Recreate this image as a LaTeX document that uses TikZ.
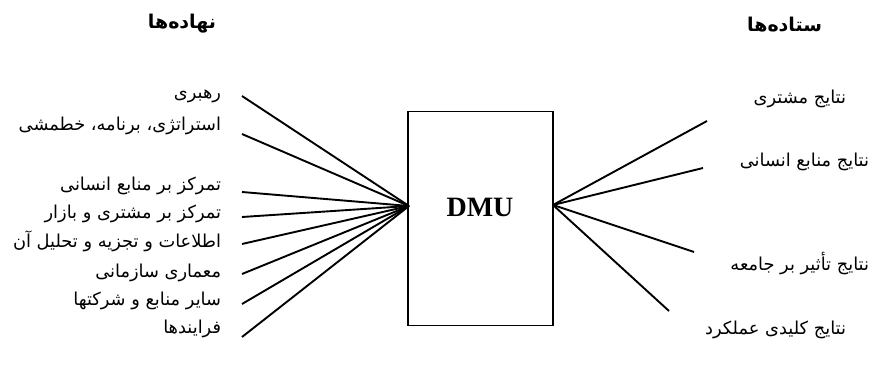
\documentclass[tikz,border=0pt]{standalone}
\usepackage{fontspec}
\setmainfont{Liberation Serif}
\newfontfamily\farsi[Script=Arabic]{DejaVu Sans}
\TeXXeTstate=1
\usetikzlibrary{positioning}

\begin{document}
\begin{tikzpicture}[x=1pt,y=-1pt,line width=1.9pt,
	lbl/.style={font=\farsi\fontsize{17.8}{20}\selectfont,inner sep=0pt,anchor=east},
	ttl/.style={font=\farsi\bfseries\fontsize{19}{21}\selectfont,inner sep=0pt,anchor=east},
	unit/.style={draw,line width=1.9pt,minimum width=145pt,minimum height=214pt,inner sep=0pt}]
	\useasboundingbox (0,0) rectangle (873,374);
	\node[ttl] (inTitle) at (217,24) {\beginR نهاده‌ها\endR};
	\node[ttl] (outTitle) at (823,25) {\beginR ستاده‌ها\endR};
	%
	\node[unit] (dmu) at (480.5,218.5) {};
	\node[font=\bfseries\fontsize{28}{30}\selectfont] (dmuText) at (480,207) {DMU};
	\coordinate (inPt) at (409,206);
	\coordinate (outPt) at (553,205);
	%
	\foreach \t/\ly/\sy [count=\i] in {رهبری/96/96,
		استراتژی، برنامه، خطمشی/126/134,
		تمرکز بر منابع انسانی/186/192,
		تمرکز بر مشتری و بازار/214/217,
		اطلاعات و تجزیه و تحلیل آن/241/244,
		معماری سازمانی/273/274,
		سایر منابع و شرکتها/301/304,
		فرایندها/329/337}{
		\node[lbl] (in\i) at (222,\ly) {\beginR\t\endR};
		\coordinate (s\i) at (242,\sy);
		\draw (s\i) -- (inPt);
	}
	%
	\foreach \t/\lx/\ly/\ex/\ey [count=\i] in {نتایج مشتری/847/99/707/121,
		نتایج منابع انسانی/870/162/703/168,
		نتایج تأثیر بر جامعه/870/264/694/252,
		نتایج کلیدی عملکرد/847/330/669/311}{
		\node[lbl] (out\i) at (\lx,\ly) {\beginR\t\endR};
		\coordinate (e\i) at (\ex,\ey);
		\draw (outPt) -- (e\i);
	}
\end{tikzpicture}
\end{document}
